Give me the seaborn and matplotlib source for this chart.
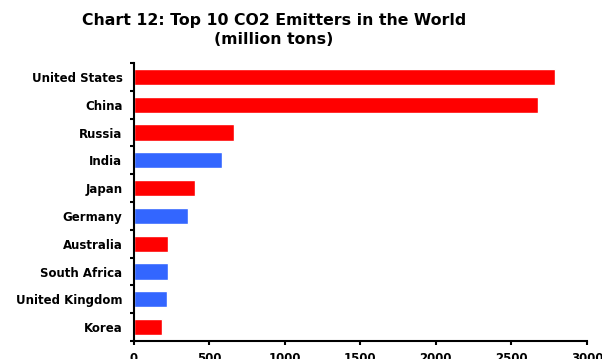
import matplotlib
matplotlib.use("Agg")
import matplotlib.pyplot as plt
import seaborn as sns
import pandas as pd
import numpy as np

countries = ["United States", "China", "Russia", "India", "Japan", "Germany",
             "Australia", "South Africa", "United Kingdom", "Korea"]
emissions = [2786, 2673, 664, 585, 406, 358, 226, 226, 219, 188]
groups = ["A", "A", "A", "B", "A", "B", "A", "B", "B", "A"]
palette = {"A": "#FF0000", "B": "#3366FF"}
x_ticks = [0, 500, 1000, 1500, 2000, 2500, 3000]

sns.set_theme(style="white")
plt.rcParams["font.family"] = ["DejaVu Sans"]
plt.rcParams["text.color"] = "black"
plt.rcParams["xtick.color"] = "black"
plt.rcParams["ytick.color"] = "black"

df = pd.DataFrame({"country": countries, "value": emissions, "group": groups})

fig = plt.figure(figsize=(6.02, 3.59), dpi=100)
ax = fig.add_axes([0.2218, 0.050, 0.975 - 0.2218, 0.7745])

sns.barplot(data=df, x="value", y="country", hue="group", palette=palette,
            dodge=False, legend=False, width=0.58, saturation=1, ax=ax)

ax.set_xlim(0, 3000)
ax.set_ylim(len(countries) - 0.5, -0.5)
ax.set_xticks(x_ticks)
ax.set_xticklabels([str(t) for t in x_ticks], fontsize=8.5, fontweight="bold")
ax.set_yticks(range(len(countries)))
ax.set_yticklabels(countries, fontsize=8.5, fontweight="bold")
ax.set_yticks(np.arange(-0.5, len(countries), 1), minor=True)
ax.tick_params(axis="y", which="major", length=0, pad=8)
ax.tick_params(axis="y", which="minor", length=3, width=1.5, color="black", left=True)
ax.tick_params(axis="x", which="major", length=3, width=1.5, color="black", bottom=True, pad=5)
ax.set_xlabel("")
ax.set_ylabel("")

for side in ["top", "right"]:
    ax.spines[side].set_visible(False)
for side in ["left", "bottom"]:
    ax.spines[side].set_color("black")
    ax.spines[side].set_linewidth(1.5)

fig.text(274 / 602, 1 - 20 / 359, "Chart 12: Top 10 CO2 Emitters in the World",
         ha="center", va="center", fontsize=11.3, fontweight="bold")
fig.text(274 / 602, 1 - 40 / 359, "(million tons)",
         ha="center", va="center", fontsize=11.3, fontweight="bold")

fig.savefig("out.png", dpi=100, facecolor="white")
